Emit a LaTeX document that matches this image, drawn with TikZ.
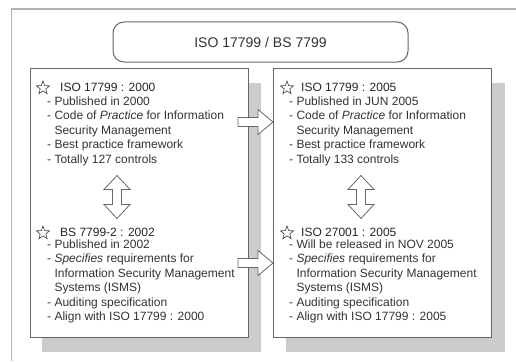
\documentclass[tikz,border=0pt]{standalone}
\usepackage{fontspec}
\setmainfont{Liberation Sans}
\usetikzlibrary{shapes.geometric}

\tikzset{
  x=1pt, y=-1pt,
  outerframe/.style={draw=black!30, line width=1.6pt},
  panel/.style={rectangle, draw=black!60, line width=1.1pt, fill=white,
    minimum width=218pt, minimum height=269pt, inner sep=0pt, anchor=north west},
  panelshadow/.style={fill=black!20, draw=none},
  titlebox/.style={rectangle, rounded corners=11pt, draw=black!60, line width=1pt,
    fill=white, minimum width=295pt, minimum height=40pt, inner sep=0pt,
    font=\fontsize{14}{16}\selectfont, text=black!80},
  heading/.style={anchor=base west, inner sep=0pt,
    font=\fontsize{12}{14.4}\selectfont, text=black!85},
  body/.style={anchor=north west, inner sep=0pt, align=left,
    font=\fontsize{12}{14.4}\selectfont, text=black!80},
  staricon/.style={star, star points=5, star point ratio=2.4, draw=black!75,
    line width=0.6pt, minimum size=14pt, inner sep=0pt},
  blockarrow/.style={draw=black!60, fill=white, line width=0.8pt, line join=miter},
  pics/rightblock/.style={code={
    \draw[blockarrow] (0,-4.5) -- (20,-4.5) -- (20,-12.5) -- (35,0)
      -- (20,12.5) -- (20,4.5) -- (0,4.5) -- cycle;}},
  pics/updownblock/.style={code={
    \draw[blockarrow] (0,-21.5) -- (13,-7.5) -- (4.5,-7.5) -- (4.5,7.5)
      -- (13,7.5) -- (0,21.5) -- (-13,7.5) -- (-4.5,7.5) -- (-4.5,-7.5)
      -- (-13,-7.5) -- cycle;}},
}

\newcommand{\dashsp}{\phantom{- }}

\begin{document}
\begin{tikzpicture}
  \useasboundingbox (0,0) rectangle (516,361);
  \fill[white] (0,0) rectangle (516,361);

  % page frame (only the top and left edges show)
  \draw[outerframe] (11.5,361) -- (11.5,9) -- (516,9);

  % title
  \node[titlebox] (title) at (260.5,42) {ISO 17799 / BS 7799};

  % panel shadows and panels
  \fill[panelshadow] (42,83) rectangle (261,352);
  \fill[panelshadow] (286,83) rectangle (505,352);
  \node[panel] (leftbox) at (30,68) {};
  \node[panel] (rightbox) at (273,68) {};

  % arrows between the standards
  \pic at (238,122) {rightblock};
  \pic at (238,263) {rightblock};
  \pic at (117,197) {updownblock};
  \pic at (361,197) {updownblock};

  % left panel, upper entry
  \node[staricon] (starA) at (43,88) {};
  \node[heading] (headA) at (60,91) {ISO 17799 : 2000};
  \node[body] (bodyA) at (47,96.7) {%
    - Published in 2000\\
    - Code of \textit{Practice} for Information\\
    \dashsp Security Management\\
    - Best practice framework\\
    - Totally 127 controls};

  % left panel, lower entry
  \node[staricon] (starB) at (43,233) {};
  \node[heading] (headB) at (60,236) {BS 7799-2 : 2002};
  \node[body] (bodyB) at (47,239.7) {%
    - Published in 2002\\
    - \textit{Specifies} requirements for\\
    \dashsp Information Security Management\\
    \dashsp Systems (ISMS)\\
    - Auditing specification\\
    - Align with ISO 17799 : 2000};

  % right panel, upper entry
  \node[staricon] (starC) at (287,88) {};
  \node[heading] (headC) at (301,91) {ISO 17799 : 2005};
  \node[body] (bodyC) at (289,96.7) {%
    - Published in JUN 2005\\
    - Code of \textit{Practice} for Information\\
    \dashsp Security Management\\
    - Best practice framework\\
    - Totally 133 controls};

  % right panel, lower entry
  \node[staricon] (starD) at (287,233) {};
  \node[heading] (headD) at (301,236) {ISO 27001 : 2005};
  \node[body] (bodyD) at (289,239.7) {%
    - Will be released in NOV 2005\\
    - \textit{Specifies} requirements for\\
    \dashsp Information Security Management\\
    \dashsp Systems (ISMS)\\
    - Auditing specification\\
    - Align with ISO 17799 : 2005};
\end{tikzpicture}
\end{document}
